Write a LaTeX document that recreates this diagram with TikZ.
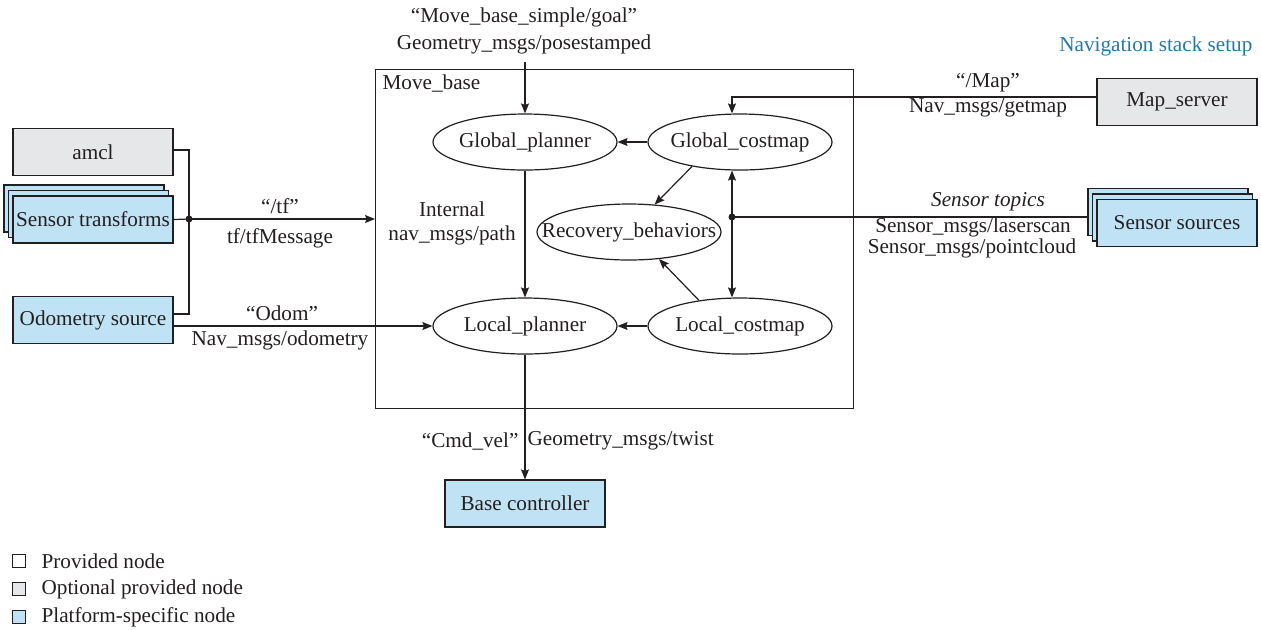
\documentclass[tikz,border=0pt]{standalone}
\usepackage{fontspec}
\setmainfont{Liberation Serif}
\usetikzlibrary{shapes.geometric,arrows.meta,shadows}
\definecolor{optgray}{RGB}{230,231,232}
\definecolor{platblue}{RGB}{192,226,245}
\definecolor{navblue}{RGB}{35,120,170}
\definecolor{ink}{RGB}{35,31,32}
\begin{document}
\begin{tikzpicture}[x=0.5pt,y=-0.5pt,
  font=\fontsize{10.6}{12.7}\selectfont, line width=0.6pt, draw=ink, text=ink,
  >={Stealth[length=5pt,width=4pt,inset=0.8pt]},
  box/.style={draw=ink, rectangle, minimum width=80pt, minimum height=23.5pt, inner sep=0pt},
  optbox/.style={box, fill=optgray},
  platbox/.style={box, fill=platblue},
  stackbox/.style={platbox, double copy shadow={shadow xshift=-2.25pt, shadow yshift=2.75pt, fill=platblue, draw=ink}},
  ell/.style={draw=ink, ellipse, minimum width=92pt, minimum height=28pt, inner xsep=-14pt, inner ysep=0pt},
  lbl/.style={inner sep=0pt, align=center},
  legsq/.style={draw=ink, rectangle, minimum size=6.3pt, inner sep=0pt}]
\useasboundingbox (0,0) rectangle (1261,629);

% Move_base frame
\node[draw=ink, minimum width=239pt, minimum height=169.5pt, inner sep=0pt, anchor=north west] (mb) at (375,69) {};
\node[lbl, anchor=west] (mbl) at (382,83) {Move\_base};

% ellipses
\node[ell] (gp) at (525,142) {Global\_planner};
\node[ell] (gc) at (740,142) {Global\_costmap};
\node[ell] (rb) at (629,232) {Recovery\_behaviors};
\node[ell] (lp) at (525,326) {Local\_planner};
\node[ell] (lc) at (740,326) {Local\_costmap};

% left boxes
\node[optbox] (amcl) at (93,152) {amcl};
\node[stackbox] (st) at (93,219.5) {Sensor transforms};
\node[platbox] (odo) at (93,320) {Odometry source};

% right boxes
\node[optbox] (ms) at (1177,102) {Map\_server};
\node[stackbox] (ss) at (1177,223) {Sensor sources};

% bottom box
\node[platbox] (bc) at (525,503.5) {Base controller};

% coordinates
\coordinate (bus) at (189,219);
\coordinate (jn) at (732,217);
\coordinate (goaltop) at (525,62);

% internal connectors
\draw[->] (gc) -- (gp);
\draw[->] (lc) -- (lp);
\draw[->] (gp) -- (lp);
\draw[->] (gc.207) -- (rb.47);
\draw[->] (lc.148) -- (rb.318);
\draw[<->] (gc.south -| jn) -- (lc.north -| jn);

% map server
\draw[->] (ms.west |- 0,97) -| (gc.north -| jn);
% sensor sources
\draw ([xshift=-4.5pt]ss.west |- jn) -- (jn);
\fill[ink] (jn) circle (1.75pt);

% left bus
\draw (amcl.east |- 0,150) -| (bus) |- (odo.east |- 0,314);
\draw (st.east) -- (bus);
\fill[ink] (bus) circle (1.75pt);
\draw[->] (bus) -- (mb.west |- bus);
\draw[->] (odo.east |- lp.west) -- (lp.west);

% goal and cmd_vel
\draw[->] (goaltop) -- (gp.north);
\draw[->] (lp.south) -- (bc.north);

% labels
\node[lbl] (goal1) at (524,17) {“Move\_base\_simple/goal”};
\node[lbl] (goal2) at (524,44) {Geometry\_msgs/posestamped};
\node[lbl, anchor=east, text=navblue] (nav) at (1253,46) {Navigation stack setup};
\node[lbl] (map1) at (988,83) {“/Map”};
\node[lbl] (map2) at (988,108) {Nav\_msgs/getmap};
\node[lbl] (sen1) at (988,202) {\itshape Sensor topics};
\node[lbl] (sen2) at (973,227) {Sensor\_msgs/laserscan};
\node[lbl] (sen3) at (972,248) {Sensor\_msgs/pointcloud};
\node[lbl] (tf1) at (280,206) {“/tf”};
\node[lbl] (tf2) at (280,238) {tf/tfMessage};
\node[lbl] (od1) at (282,313) {“Odom”};
\node[lbl] (od2) at (280,340) {Nav\_msgs/odometry};
\node[lbl] (int1) at (452,209) {Internal};
\node[lbl] (int2) at (452,235) {nav\_msgs/path};
\node[lbl, anchor=east] (cmd1) at (519,441) {“Cmd\_vel”};
\node[lbl, anchor=west] (cmd2) at (527,441) {Geometry\_msgs/twist};

% legend
\node[legsq] (lg1) at (19,561) {};
\node[legsq, fill=optgray] (lg2) at (19,589) {};
\node[legsq, fill=platblue] (lg3) at (19,617) {};
\node[lbl, anchor=west] (lt1) at (41,561) {Provided node};
\node[lbl, anchor=west] (lt2) at (41,589) {Optional provided node};
\node[lbl, anchor=west] (lt3) at (41,617) {Platform-specific node};
\end{tikzpicture}
\end{document}
